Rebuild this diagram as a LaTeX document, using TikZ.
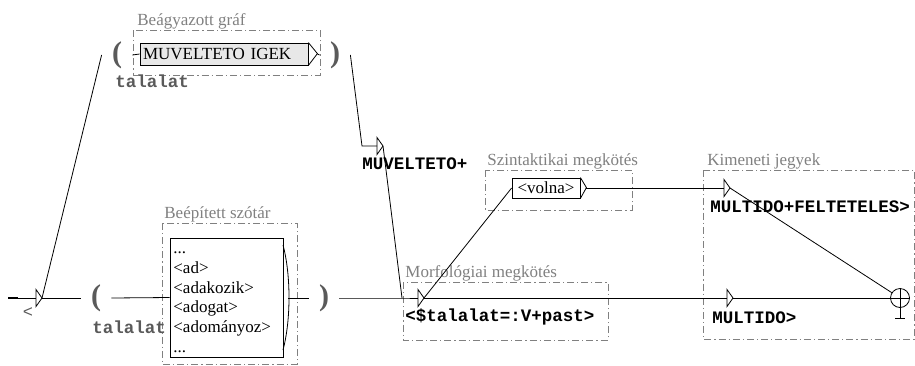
\documentclass[tikz,border=0pt]{standalone}
\usepackage{fontspec}
\setmainfont{Liberation Serif}
\setmonofont{Liberation Mono}
\usepackage{xcolor}
\usepackage{tikz}
\usetikzlibrary{positioning}

\definecolor{framegray}{RGB}{128,128,128}
\definecolor{labgray}{RGB}{90,90,90}
\definecolor{boxgray}{RGB}{232,232,232}

% empty box with an output: small triangle, named by its base point
\newcommand\epsbox[3]{%
  \coordinate (#1) at (#2,#3);
  \coordinate (#1-tip) at (#2+6,#3);
  \draw (#1) ++(0,-8.5) -- ++(6,8.5) -- ++(-6,8.5) -- cycle;}

\begin{document}
\begin{tikzpicture}[x=1pt, y=-1pt, line width=0.8pt]
    \tikzstyle{frame} = [draw=framegray, line width=0.7pt, dash pattern=on 7pt off 3pt on 1.2pt off 3pt]
    \tikzstyle{framelabel} = [anchor=base west, inner sep=0pt, text=framegray, font=\fontsize{17}{17}\selectfont]
    \tikzstyle{word} = [anchor=base west, inner sep=0pt, font=\fontsize{17}{17}\selectfont]
    \tikzstyle{paren} = [inner sep=0pt, minimum width=30pt, text=labgray, font=\bfseries\fontsize{30}{30}\selectfont]
    \tikzstyle{output} = [inner sep=0pt, anchor=west, font=\ttfamily\bfseries\fontsize{17.5}{17.5}\selectfont]
    \tikzstyle{var} = [output, text=labgray]
    \tikzstyle{final} = [circle, draw, minimum size=19pt, inner sep=0pt]

    \useasboundingbox (0,0) rectangle (915,365);

    % frames
    \draw[frame] (133,30) rectangle (320,75);
    \node[framelabel] (lgraf) at (137,25) {Beágyazott gráf};
    \draw[frame] (162,223) rectangle (297,364);
    \node[framelabel] (lszotar) at (164,218) {Beépített szótár};
    \draw[frame] (485,170) rectangle (632,210);
    \node[framelabel] (lszint) at (487,165) {Szintaktikai megkötés};
    \draw[frame] (403,282) rectangle (608,340);
    \node[framelabel] (lmorf) at (405,277) {Morfológiai megkötés};
    \draw[frame] (703,170) rectangle (914,339);
    \node[framelabel] (lkim) at (707,165) {Kimeneti jegyek};

    % main path
    \coordinate (init) at (8,298);
    \epsbox{t0}{36}{298}
    \node[var, anchor=center, font=\ttfamily\fontsize{17}{17}\selectfont] (lt) at (28,313) {<};
    \node[paren] (pa) at (96,298) {(};
    \node[var] (tal1) at (92,327) {talalat};
    \node[rectangle, draw, minimum width=113pt, minimum height=119pt] (dict) at (226.5,297.5) {};
    \node[word] (w1) at (173,253) {...};
    \node[word] (w2) at (173,273) {<ad>};
    \node[word] (w3) at (173,293) {<adakozik>};
    \node[word] (w4) at (173,312) {<adogat>};
    \node[word] (w5) at (173,332) {<adományoz>};
    \node[word] (w6) at (173,352) {...};
    \coordinate (dout) at (288,298);
    \node[paren] (pb) at (324,298) {)};
    \coordinate (join) at (402,298);
    \epsbox{t3}{418}{298}
    \node[output] (omorf) at (405,317) {<\$talalat=:V+past>};
    \epsbox{t4}{727}{298}
    \node[output] (omult) at (712,318) {MULTIDO>};
    \node[final] (fin) at (900,298) {};

    % embedded graph
    \node[paren] (pc) at (117,55) {(};
    \node[var] (tal2) at (115,81) {talalat};
    \node[rectangle, draw, fill=boxgray, minimum height=22pt, text width=162pt, inner xsep=3pt, inner ysep=0pt, align=left, font=\fontsize{17}{17}\selectfont] (graf) at (224,54) {MUVELTETO IGEK};
    \node[paren] (pd) at (335,55) {)};
    \coordinate (bend) at (362,146);
    \epsbox{t1}{377}{146}
    \node[output] (omuv) at (362,164) {MUVELTETO+};

    % syntactic constraint and output features
    \node[rectangle, draw, minimum width=68pt, minimum height=20pt, inner sep=0pt, font=\fontsize{17}{17}\selectfont] (volna) at (546,188) {<volna>};
    \coordinate (vout) at (586,188);
    \epsbox{t2}{724}{188}
    \node[output] (ofelt) at (710,207) {MULTIDO+FELTETELES>};

    % connectors
    \draw[line width=2pt] (init) -- ++(10,0);
    \draw (init) -- (t0);
    \draw (t0-tip) -- (pa.west);
    \draw (pa.east) -- (dict.west);
    \draw (283,245) .. controls (291,275) and (291,320) .. (283,350);
    \draw (dout) -- (pb.west);
    \draw (pb.east) -- (join) -- (t3);
    \draw (t0-tip) -- (pc.west);
    \draw (pc.east) -- (graf.west);
    \draw (graf.north east) -- ++(9,11) -- (graf.south east);
    \draw ([xshift=9pt]graf.east) -- (pd.west);
    \draw (pd.east) -- (bend) -- (t1);
    \draw (t1-tip) -- (join);
    \draw (t3-tip) -- (volna.west);
    \draw (volna.north east) -- ++(6,10) -- (volna.south east);
    \draw (vout) -- (t2);
    \draw (t2-tip) -- (fin);
    \draw (t3-tip) -- (t4);
    \draw (t4-tip) -- (fin);
    \draw (fin.north) -- (fin.south) -- ++(0,10) ++(-5,0) -- ++(10,0);
    \draw (fin.west) -- (fin.east);
\end{tikzpicture}
\end{document}
